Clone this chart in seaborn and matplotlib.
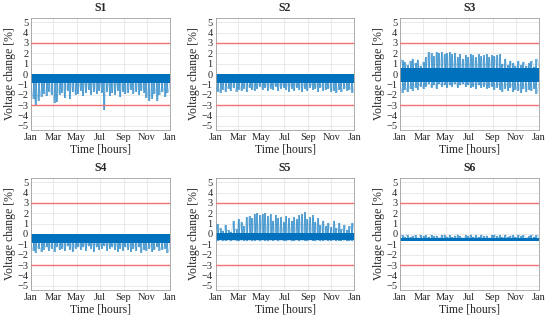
import numpy as np
import pandas as pd
import matplotlib
matplotlib.use("Agg")
import matplotlib.pyplot as plt
import seaborn as sns

# hourly axis: one year
month_ticks = [0, 1416, 2880, 4344, 5832, 7296, 8760]
month_labels = ["Jan", "Mar", "May", "Jul", "Sep", "Nov", "Jan"]
titles = ["S1", "S2", "S3", "S4", "S5", "S6"]
limit = 3

# dense core band of each scenario [bottom, top] in %
core = {
    "S1": (-0.85, 0.0),
    "S2": (-0.9, 0.0),
    "S3": (-0.8, 0.6),
    "S4": (-0.9, 0.0),
    "S5": (-0.6, 0.1),
    "S6": (-0.7, -0.4),
}

# weekly spike extremes (52 weeks)
s1_lo = [-2.4, -3.0, -2.6, -2.2, -1.9, -2.1, -1.7, -2.0, -2.8,
         -2.7, -2.0, -1.8, -2.3, -1.6, -2.4, -1.7, -2.0, -1.9,
         -1.6, -2.1, -1.8, -1.5, -2.0, -1.7, -1.9, -1.6, -1.8,
         -3.5, -1.7, -2.1, -1.8, -2.0, -1.6, -2.2, -1.7, -1.9,
         -1.8, -1.5, -1.9, -1.7, -2.0, -1.6, -1.8, -2.3,
         -2.6, -2.4, -1.9, -2.6, -2.0, -1.7, -2.2, -1.8]
s2_lo = [-1.7, -1.8, -1.5, -1.7, -1.4, -1.6, -1.3, -1.7, -1.5,
         -1.6, -1.4, -1.7, -1.3, -1.5, -1.6, -1.4, -1.2, -1.5,
         -1.3, -1.6, -1.4, -1.5, -1.2, -1.6, -1.4, -1.3, -1.5,
         -1.7, -1.4, -1.6, -1.3, -1.5, -1.7, -1.4, -1.6, -1.3,
         -1.5, -1.4, -1.7, -1.3, -1.6, -1.5, -1.4, -1.7,
         -1.6, -1.8, -1.5, -1.7, -1.4, -1.6, -1.5, -1.8]
s3_hi = [1.4, 1.2, 0.9, 1.3, 1.5, 1.1, 1.4, 0.8, 1.2,
         1.6, 2.1, 2.0, 1.7, 2.1, 2.0, 2.1, 1.9, 2.0,
         2.1, 1.9, 2.0, 1.6, 1.9, 1.5, 1.8, 1.6, 1.9,
         1.8, 1.6, 1.9, 1.7, 1.8, 1.9, 1.6, 1.8, 1.7,
         1.8, 1.9, 1.0, 1.5, 0.9, 1.3, 1.1, 0.8,
         1.3, 0.9, 1.2, 0.8, 1.1, 1.3, 0.7, 1.5]
s3_lo = [-1.8, -1.5, -1.7, -1.4, -1.6, -1.3, -1.5, -1.2, -1.4,
         -1.2, -1.0, -1.3, -1.1, -1.4, -1.0, -1.2, -1.1, -1.3,
         -1.1, -1.2, -1.0, -1.3, -1.1, -1.0, -1.2, -1.1, -1.3,
         -1.2, -1.4, -1.1, -1.3, -1.2, -1.4, -1.3, -1.2, -1.5,
         -1.3, -1.5, -1.7, -1.4, -1.6, -1.3, -1.7, -1.5,
         -1.6, -1.8, -1.4, -1.7, -1.5, -1.6, -1.4, -1.9]
s4_lo = [-1.6, -1.8, -1.4, -1.7, -1.5, -1.3, -1.6, -1.4, -1.7,
         -1.3, -1.5, -1.4, -1.6, -1.2, -1.5, -1.7, -1.4, -1.3,
         -1.5, -1.3, -1.6, -1.2, -1.4, -1.7, -1.3, -1.5, -1.4,
         -1.2, -1.6, -1.4, -1.3, -1.5, -1.7, -1.4, -1.6, -1.3,
         -1.5, -1.7, -1.4, -1.6, -1.3, -1.8, -1.5, -1.6,
         -1.4, -1.7, -1.5, -1.3, -1.6, -1.5, -1.4, -1.8]
s5_hi = [1.0, 0.6, 0.3, 0.9, 0.4, 0.2, 1.3, 0.5, 1.4,
         1.2, 0.8, 1.6, 1.7, 1.5, 1.9, 2.0, 1.8, 1.9,
         2.0, 1.7, 1.9, 1.3, 1.8, 1.5, 1.6, 1.2, 1.7,
         1.5, 1.3, 1.6, 1.4, 1.8, 1.9, 2.1, 1.4, 1.6,
         1.8, 1.2, 1.5, 0.9, 1.3, 0.8, 1.1, 0.7,
         1.3, 0.6, 1.1, 0.5, 0.9, 0.4, 0.8, 1.1]
s5_lo = [-0.7, -0.6, -0.7, -0.65, -0.6, -0.7, -0.6, -0.65, -0.7,
         -0.6, -0.65, -0.7, -0.6, -0.7, -0.65, -0.6, -0.7, -0.6,
         -0.65, -0.7, -0.6, -0.65, -0.6, -0.7, -0.6, -0.65, -0.7,
         -0.6, -0.7, -0.65, -0.6, -0.7, -0.6, -0.65, -0.7, -0.6,
         -0.65, -0.7, -0.6, -0.7, -0.65, -0.6, -0.7, -0.65,
         -0.6, -0.7, -0.65, -0.7, -0.6, -0.7, -0.65, -0.7]
s6_hi = [-0.1, -0.25, -0.05, -0.3, -0.15, -0.1, -0.35, -0.05, -0.2,
         -0.1, -0.3, -0.05, -0.2, -0.15, -0.35, -0.1, -0.05, -0.25,
         -0.1, -0.3, -0.15, -0.05, -0.2, -0.35, -0.1, -0.15, -0.05,
         -0.25, -0.1, -0.3, -0.05, -0.2, -0.15, -0.35, -0.1, -0.05,
         -0.2, -0.1, -0.3, -0.05, -0.25, -0.15, -0.1, -0.3,
         -0.05, -0.2, -0.1, -0.35, -0.15, -0.05, -0.25, -0.1]

spikes = {
    "S1": [s1_lo],
    "S2": [s2_lo],
    "S3": [s3_hi, s3_lo],
    "S4": [s4_lo],
    "S5": [s5_hi, s5_lo],
    "S6": [s6_hi],
}

sns.set_theme(style="whitegrid")
plt.rcParams["font.family"] = ["Liberation Serif", "DejaVu Serif"]
plt.rcParams["axes.edgecolor"] = "#a0a0a0"
plt.rcParams["grid.color"] = "#e6e6e6"
plt.rcParams["grid.linewidth"] = 0.6

blue = "#0072BD"
red = "#f27070"

fig, axes = plt.subplots(2, 3, figsize=(5.5, 3.23), dpi=100)
fig.subplots_adjust(left=0.0564, right=0.98, top=0.944, bottom=0.1022,
                    wspace=0.328, hspace=0.428)

for ax, name in zip(axes.flat, titles):
    bot, top = core[name]
    ax.fill_between([0, 8760], bot, top, color=blue, lw=0, zorder=2)
    for arr in spikes[name]:
        edge = top if arr[0] > top else bot
        # one spike per week, drawn as a thin vertical stroke
        wk = np.linspace(0, 8760, len(arr) + 2)[1:-1]
        ax.vlines(wk, edge, arr, color=blue, lw=1.1, alpha=0.75, zorder=3)
        # light envelope joining the weekly extremes
        yy = []
        for v in arr:
            yy += [edge, v]
        yy.append(edge)
        xx = np.linspace(0, 8760, len(yy))
        df = pd.DataFrame({"t": xx, "v": yy})
        sns.lineplot(data=df, x="t", y="v", ax=ax, color=blue, lw=0.5,
                     alpha=0.35, estimator=None, sort=False, zorder=3)
    ax.axhline(limit, color=red, lw=1.0, zorder=4)
    ax.axhline(-limit, color=red, lw=1.0, zorder=4)

    ax.set_xlim(0, 8760)
    ax.set_ylim(-5.4, 5.4)
    ax.set_xticks(month_ticks)
    ax.set_xticklabels(month_labels)
    ax.set_yticks(range(-5, 6))
    ax.tick_params(axis="both", labelsize=7.5, colors="#262626",
                   direction="in", length=2, width=0.5, pad=2,
                   color="#a0a0a0")
    ax.set_title(name, fontsize=8.5, fontweight="bold", pad=5)
    ax.set_xlabel("Time [hours]", fontsize=8.5, labelpad=1)
    ax.set_ylabel("Voltage change [%]", fontsize=8.5, labelpad=1)
    for s in ax.spines.values():
        s.set_linewidth(0.6)

fig.savefig("out.png", dpi=100)
